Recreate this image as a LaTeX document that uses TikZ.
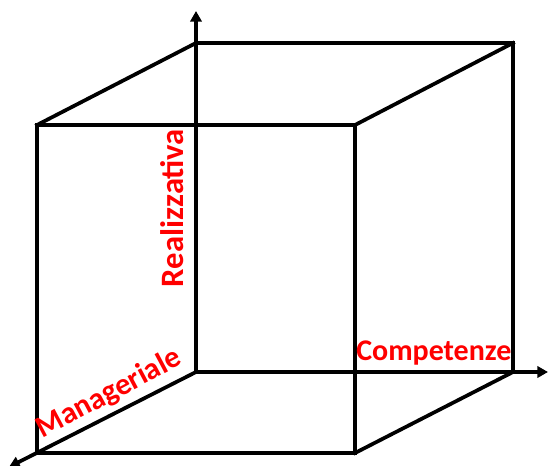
\documentclass[tikz,border=0pt]{standalone}
\usepackage{fontspec}
\setmainfont{Carlito}
\usetikzlibrary{arrows.meta}
\tikzset{
  edge/.style={line width=2.8pt, line cap=rect, line join=miter},
  axis/.style={line width=2.8pt, -{Triangle[length=8pt,width=8.5pt]}},
  lab/.style={text=red, font=\fontsize{22.5pt}{26pt}\selectfont\bfseries, inner sep=0pt}
}
\begin{document}
\begin{tikzpicture}[x=0.75pt,y=-0.75pt]
\useasboundingbox (0,0) rectangle (548,466);
% back face
\coordinate (btl) at (196,43);
\coordinate (btr) at (513,43);
\coordinate (bbr) at (513,372);
\coordinate (bbl) at (196,372);
% front face
\coordinate (ftl) at (37,125);
\coordinate (ftr) at (355,125);
\coordinate (fbr) at (355,453);
\coordinate (fbl) at (37,453);
% axis ends
\coordinate (ytip) at (196,11);
\coordinate (xtip) at (548,372);
\coordinate (ztip) at (9,467);
% cube
\draw[edge] (btl) -- (btr) -- (bbr);
\draw[edge] (ftl) -- (ftr) -- (fbr) -- (fbl) -- cycle;
\draw[edge] (ftl) -- (btl);
\draw[edge] (ftr) -- (btr);
\draw[edge] (fbr) -- (bbr);
% axes
\draw[axis] (bbl) -- (ytip);
\draw[axis] (bbl) -- (xtip);
\draw[axis] (bbl) -- (ztip);
% labels
\node[lab, anchor=base west] (comp) at (356,360) {Competenze};
\node[lab, anchor=base, rotate=90, font=\fontsize{24.5pt}{28pt}\selectfont\bfseries] (real) at (183,208) {Realizzativa};
\node[lab, anchor=base, rotate=28, font=\fontsize{23pt}{26pt}\selectfont\bfseries] (man) at (113,401) {Manageriale};
\end{tikzpicture}
\end{document}
